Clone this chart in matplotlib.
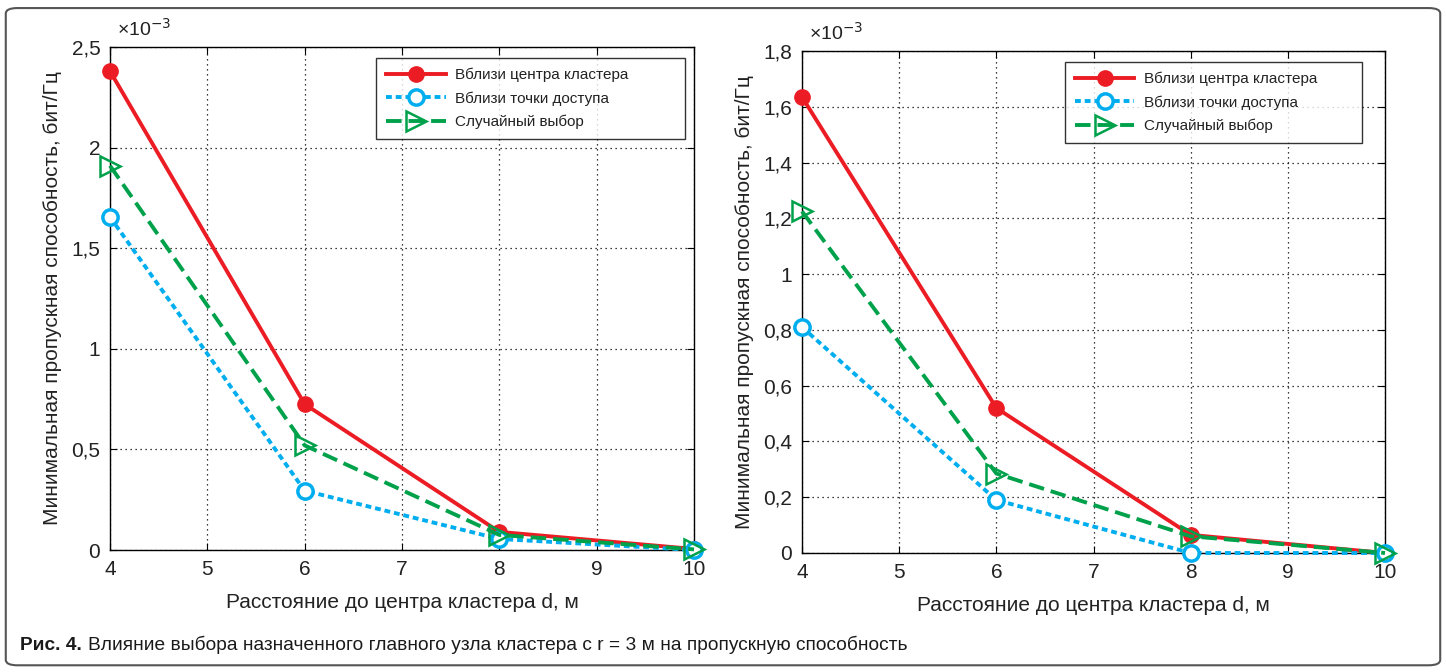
import matplotlib
matplotlib.use("Agg")
import matplotlib.pyplot as plt
from matplotlib.patches import FancyBboxPatch

plt.rcParams['font.family'] = ['Liberation Sans', 'DejaVu Sans']

# данные (в единицах 1e-3 бит/Гц)
d = [4, 6, 8, 10]
left_center = [2.38, 0.725, 0.09, 0.005]
left_ap = [1.655, 0.295, 0.055, 0.0]
left_random = [1.91, 0.52, 0.075, 0.003]

right_center = [1.635, 0.52, 0.065, 0.0]
right_ap = [0.81, 0.19, 0.0, 0.0]
right_random = [1.225, 0.285, 0.06, 0.0]

labels = ["Вблизи центра кластера", "Вблизи точки доступа", "Случайный выбор"]
left_yticks = [0, 0.5, 1, 1.5, 2, 2.5]
right_yticks = [0, 0.2, 0.4, 0.6, 0.8, 1, 1.2, 1.4, 1.6, 1.8]
xticks = [4, 5, 6, 7, 8, 9, 10]

RED = "#ec1c24"
BLUE = "#00aeef"
GREEN = "#00a14b"

W, H = 1446, 672
fig = plt.figure(figsize=(W / 100, H / 100), dpi=100)

# рамка вокруг рисунка
frame = FancyBboxPatch((0.004, 0.01), 0.992, 0.978, boxstyle="round,pad=0,rounding_size=0.008",
                       transform=fig.transFigure, fill=False, edgecolor="#555555", lw=1.5)
fig.patches.append(frame)


def draw(ax, center, ap, rnd, yticks, ymax, legbox):
    ax.plot(d, center, color=RED, lw=2.8, marker="o", ms=11, mfc=RED, mec=RED,
            label=labels[0], clip_on=False, zorder=3)
    ax.plot(d, ap, color=BLUE, lw=2.8, ls=(0, (1.5, 1.0)), marker="o", ms=11, mfc="white",
            mec=BLUE, mew=2.5, label=labels[1], clip_on=False, zorder=3)
    ax.plot(d, rnd, color=GREEN, lw=2.8, ls=(0, (4, 1.8)), marker=">", ms=14, mfc="none",
            mec=GREEN, mew=1.8, label=labels[2], clip_on=False, zorder=3)
    ax.set_xlim(4, 10)
    ax.set_ylim(0, ymax)
    ax.set_xticks(xticks)
    ax.set_xticklabels([str(x) for x in xticks])
    ax.set_yticks(yticks)
    ax.set_yticklabels([("%g" % y).replace(".", ",") for y in yticks])
    ax.tick_params(direction="in", top=True, right=True, labelsize=15, length=5, pad=7,
                   labelcolor="#222222")
    ax.grid(True, ls=(0, (1, 3)), color="black", lw=0.9)
    for s in ax.spines.values():
        s.set_linewidth(1.0)
    ax.set_xlabel("Расстояние до центра кластера d, м", fontsize=15, color="#222222", labelpad=10)
    ax.set_ylabel("Минимальная пропускная способность, бит/Гц", fontsize=15, color="#222222",
                  labelpad=7)
    ax.text(0.012, 1.015, "×10$^{-3}$", transform=ax.transAxes, fontsize=14, ha="left",
            va="bottom", color="#222222")
    leg = ax.legend(loc="upper left", mode="expand", fontsize=11, frameon=True, fancybox=False,
                    edgecolor="black", handlelength=3.9, handletextpad=0.6, borderpad=0.65,
                    labelspacing=0.58, borderaxespad=0, bbox_to_anchor=legbox)
    leg.get_frame().set_linewidth(1.0)
    for t in leg.get_texts():
        t.set_color("#222222")


ax1 = fig.add_axes([110 / W, 1 - 550 / H, (694 - 110) / W, (550 - 47) / H])
draw(ax1, left_center, left_ap, left_random, left_yticks, 2.5, (0.4555, 0.0, 0.529, 0.978))

ax2 = fig.add_axes([802 / W, 1 - 553 / H, (1385 - 802) / W, (553 - 51) / H])
draw(ax2, right_center, right_ap, right_random, right_yticks, 1.8, (0.451, 0.0, 0.509, 0.978))

cap1 = fig.text(20 / W, 1 - 645 / H, "Рис. 4.", fontsize=13.8, fontweight="bold",
                color="#1a1a1a", va="center")
fig.canvas.draw()
bb = cap1.get_window_extent()
fig.text((bb.x1 + 6) / W, 1 - 645 / H,
         "Влияние выбора назначенного главного узла кластера с r = 3 м на пропускную способность",
         fontsize=13.8, color="#1a1a1a", va="center")

fig.savefig("out.png", dpi=100)
